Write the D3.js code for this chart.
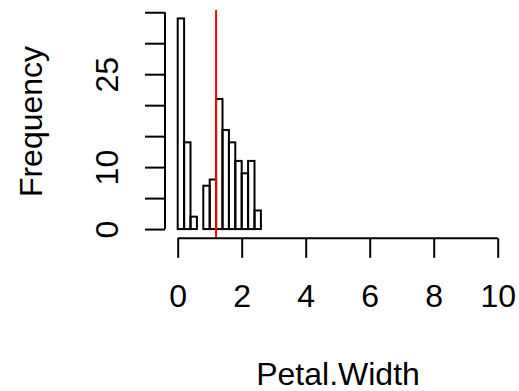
<!DOCTYPE html>
<html><head><meta charset="utf-8">
<script src="https://cdn.jsdelivr.net/npm/d3@7"></script>
<style>body{margin:0;background:#fff}</style>
</head><body>
<script>
const breaks = [0,0.2,0.4,0.6,0.8,1.0,1.2,1.4,1.6,1.8,2.0,2.2,2.4,2.6];
const counts = [34,14,2,0,7,8,21,16,14,11,9,11,3];
const meanValue = 1.199333;
const xTicks = [0,2,4,6,8,10];
const yTicks = [0,5,10,15,20,25,30,35];
const yTickLabels = ["0","","10","","","25","",""];
const xTitle = "Petal.Width";
const yTitle = "Frequency";

const W = 519, H = 391;
const font = "Liberation Sans, Arial, Helvetica, sans-serif";
const fs = 32;
const svg = d3.select("body").append("svg").attr("width", W).attr("height", H);

const x = d3.scaleLinear().domain([-0.4, 10.4]).range([164.9, 510.5]);
const y = d3.scaleLinear().domain([-1.36, 35.36]).range([237.5, 10]);

// bars
svg.append("g").selectAll("rect").data(counts).join("rect")
  .attr("x", (d,i) => x(breaks[i]))
  .attr("width", (d,i) => x(breaks[i+1]) - x(breaks[i]))
  .attr("y", d => y(d))
  .attr("height", d => y(0) - y(d))
  .attr("fill", "none").attr("stroke", "#000").attr("stroke-width", 2);

// mean line
svg.append("line")
  .attr("x1", x(meanValue)).attr("x2", x(meanValue))
  .attr("y1", y.range()[1]).attr("y2", y.range()[0])
  .attr("stroke", "#ff0000").attr("stroke-width", 2);

// x axis
const xAxisY = 238.3;
const gx = svg.append("g").attr("transform", `translate(0,${xAxisY})`)
  .call(d3.axisBottom(x).tickValues(xTicks).tickSize(19.5).tickSizeOuter(0).tickFormat(d3.format("d")));
gx.select(".domain").attr("d", `M${x(0)},0H${x(10)}`).attr("stroke-width", 2);
gx.selectAll(".tick line").attr("stroke-width", 2);
gx.selectAll(".tick text").attr("font-family", font).attr("font-size", fs)
  .attr("y", 0).attr("dy", 0).attr("transform", "translate(0,68.5)");

// y axis
const yAxisX = 165;
const gy = svg.append("g").attr("transform", `translate(${yAxisX},0)`)
  .call(d3.axisLeft(y).tickValues(yTicks).tickSize(20).tickSizeOuter(0).tickFormat((d,i) => yTickLabels[i]));
gy.select(".domain").attr("d", `M0,${y(0)}V${y(35)}`).attr("stroke-width", 2);
gy.selectAll(".tick line").attr("stroke-width", 2);
gy.selectAll(".tick text").attr("font-family", font).attr("font-size", fs)
  .attr("x", 0).attr("dy", 0).attr("text-anchor", "middle")
  .attr("transform", "translate(-47,0) rotate(-90)");

// titles
svg.append("text").attr("x", 338).attr("y", 385)
  .attr("text-anchor", "middle").attr("font-family", font).attr("font-size", fs).text(xTitle);
svg.append("text").attr("transform", `translate(42,121.5) rotate(-90)`)
  .attr("text-anchor", "middle").attr("font-family", font).attr("font-size", fs).text(yTitle);
</script>
</body></html>
